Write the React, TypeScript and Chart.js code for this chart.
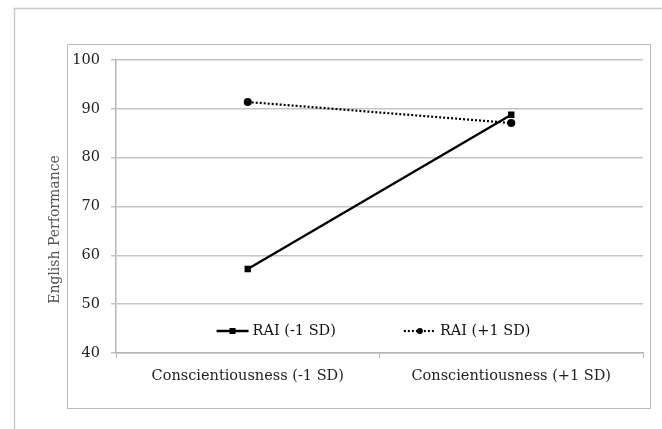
import React, { useEffect, useRef } from "react";
import { Chart, registerables } from "chart.js";

Chart.register(...registerables);

const categories = ["Conscientiousness (-1 SD)", "Conscientiousness (+1 SD)"];
const seriesNames = ["RAI (-1 SD)", "RAI (+1 SD)"];
const raiLow = [57.2, 88.8];
const raiHigh = [91.4, 87.1];
const yTicks = [40, 50, 60, 70, 80, 90, 100];
const yTitle = "English Performance";

const FONT = "'DejaVu Serif', 'Liberation Serif', serif";

const framePlugin = {
  id: "frames",
  beforeDraw(chart: any) {
    const ctx = chart.ctx;
    ctx.save();
    ctx.fillStyle = "#ffffff";
    ctx.fillRect(0, 0, chart.width, chart.height);
    ctx.strokeStyle = "#c9c9c9";
    ctx.lineWidth = 1.5;
    ctx.beginPath();
    ctx.moveTo(14.5, chart.height + 2);
    ctx.lineTo(14.5, 8.5);
    ctx.lineTo(chart.width + 2, 8.5);
    ctx.stroke();
    ctx.strokeStyle = "#bcbcbc";
    ctx.lineWidth = 1;
    ctx.strokeRect(67.5, 44.5, 583, 364);
    ctx.restore();
  },
  afterDraw(chart: any) {
    const ctx = chart.ctx;
    const area = chart.chartArea;
    ctx.save();
    ctx.translate(55, (area.top + area.bottom) / 2 + 23);
    ctx.rotate(-Math.PI / 2);
    ctx.font = `14px ${FONT}`;
    ctx.fillStyle = "#555";
    ctx.textAlign = "center";
    ctx.textBaseline = "middle";
    ctx.fillText(yTitle, 0, 0);
    ctx.restore();
  },
};

const legendPlugin = {
  id: "innerLegend",
  afterDraw(chart: any) {
    const ctx = chart.ctx;
    const area = chart.chartArea;
    ctx.save();
    ctx.font = `14.5px ${FONT}`;
    ctx.textBaseline = "middle";
    const y = area.bottom - 22;
    const sample = 32;
    const gapText = 4;
    const gapItem = 68;
    const widths = chart.data.datasets.map((d: any) => sample + gapText + ctx.measureText(d.label).width);
    const total = widths.reduce((a: number, b: number) => a + b, 0) + gapItem * (widths.length - 1);
    let x = (area.left + area.right) / 2 - 6 - total / 2;
    chart.data.datasets.forEach((d: any, i: number) => {
      ctx.strokeStyle = d.borderColor;
      ctx.lineWidth = d.borderWidth;
      ctx.setLineDash(d.borderDash || []);
      ctx.beginPath();
      ctx.moveTo(x, y);
      ctx.lineTo(x + sample, y);
      ctx.stroke();
      ctx.setLineDash([]);
      ctx.fillStyle = "#000";
      const cx = x + sample / 2;
      if (d.pointStyle === "rect") {
        ctx.fillRect(cx - 3, y - 3, 6, 6);
      } else {
        ctx.beginPath();
        ctx.arc(cx, y, 3, 0, Math.PI * 2);
        ctx.fill();
      }
      ctx.fillStyle = "#111";
      ctx.fillText(d.label, x + sample + gapText, y);
      x += widths[i] + gapItem;
    });
    ctx.restore();
  },
};

export default function App() {
  const ref = useRef<HTMLCanvasElement | null>(null);
  useEffect(() => {
    if (!ref.current) return;
    const chart = new Chart(ref.current, {
      type: "line",
      data: {
        labels: categories,
        datasets: [
          {
            label: seriesNames[0],
            data: raiLow,
            borderColor: "#000",
            backgroundColor: "#000",
            borderWidth: 2.3,
            pointStyle: "rect",
            pointRadius: 4.5,
            pointBorderWidth: 0,
          },
          {
            label: seriesNames[1],
            data: raiHigh,
            borderColor: "#000",
            backgroundColor: "#000",
            borderWidth: 2.2,
            borderDash: [2, 2],
            pointStyle: "circle",
            pointRadius: 4,
            pointBorderWidth: 0,
          },
        ],
      },
      options: {
        animation: false,
        responsive: false,
        maintainAspectRatio: false,
        layout: { padding: { left: 0, right: 19, top: 60, bottom: 0 } },
        plugins: { legend: { display: false }, tooltip: { enabled: false } },
        scales: {
          x: {
            type: "category",
            offset: true,
            grid: {
              offset: true,
              display: true,
              drawOnChartArea: false,
              drawTicks: true,
              tickLength: 5,
              color: "#b5b5b5",
            },
            border: { display: true, color: "#b5b5b5", width: 1.5 },
            ticks: {
              color: "#222",
              font: { family: FONT, size: 14.5 },
              padding: 10,
              maxRotation: 0,
            },
            afterFit(scale: any) {
              scale.height = 76;
            },
          },
          y: {
            min: 40,
            max: 100,
            afterBuildTicks(scale: any) {
              scale.ticks = yTicks.map((v) => ({ value: v }));
            },
            grid: {
              color: "#c4c4c4",
              lineWidth: 1.5,
              tickLength: 5,
            },
            border: { display: true, color: "#b5b5b5", width: 1.5 },
            ticks: {
              color: "#222",
              font: { family: FONT, size: 14.5 },
              padding: 11,
            },
            title: { display: false, text: yTitle },
            afterFit(scale: any) {
              scale.width = 116;
            },
          },
        },
      },
      plugins: [framePlugin, legendPlugin],
    });
    return () => chart.destroy();
  }, []);
  return (
    <div style={{ position: "absolute", left: 0, top: 0, width: 662, height: 429 }}>
      <canvas ref={ref} width={662} height={429} style={{ display: "block" }} />
    </div>
  );
}
